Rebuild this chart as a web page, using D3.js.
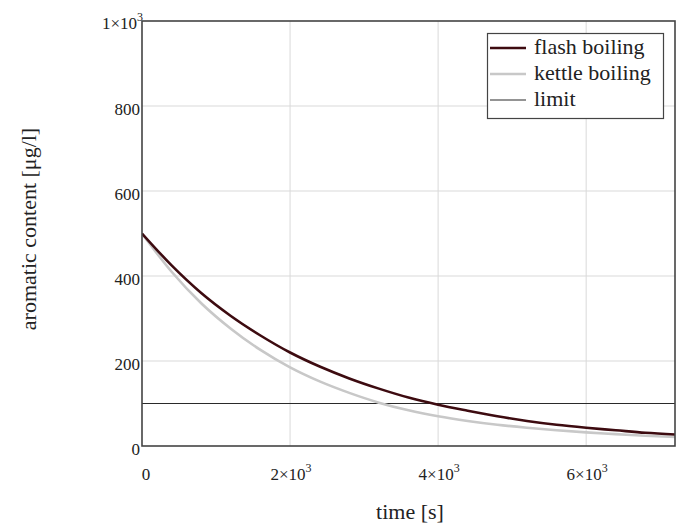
<!DOCTYPE html>
<html>
<head>
<meta charset="utf-8">
<script src="https://cdn.jsdelivr.net/npm/d3@7"></script>
<style>
  body { margin: 0; background: #fff; }
</style>
</head>
<body>
<svg id="chart" width="682" height="527"></svg>
<script>
// data
const times = [0, 400, 800, 1200, 1600, 2000, 2400, 2800, 3200, 3600, 4000,
               4400, 4800, 5200, 5600, 6000, 6400, 6800, 7200];
const flashBoiling = [500, 425, 360, 306, 260, 220, 187, 159, 135, 114, 97,
                      83, 70, 59, 50, 43, 37, 31, 27];
const kettleBoiling = [500, 410, 336, 276, 226, 185, 152, 125, 102, 84, 70,
                       59, 50, 43, 37, 32, 28, 24, 21];
const limitValue = 100;
const xTicks = [0, 2000, 4000, 6000];
const yTicks = [0, 200, 400, 600, 800, 1000];
const legendItems = [
  { label: 'flash boiling', color: '#3d0b10', width: 2.6 },
  { label: 'kettle boiling', color: '#c8c8c8', width: 2.6 },
  { label: 'limit', color: '#2a2a2a', width: 1.2 }
];

const FONT = '"Liberation Serif", "DejaVu Serif", serif';
const svg = d3.select('#chart').attr('font-family', FONT);
const plotL = 142, plotR = 675, plotT = 21, plotB = 446;

const x = d3.scaleLinear().domain([0, 7200]).range([plotL, plotR]);
const y = d3.scaleLinear().domain([0, 1000]).range([plotB, plotT]);

// grid
const grid = svg.append('g');
grid.selectAll('line.gx')
  .data(xTicks.filter(d => d > 0))
  .join('line')
  .attr('x1', d => x(d)).attr('x2', d => x(d))
  .attr('y1', plotT).attr('y2', plotB)
  .attr('stroke', '#d9d9d9').attr('stroke-width', 1);
grid.selectAll('line.gy')
  .data(yTicks.filter(d => d > 0 && d < 1000))
  .join('line')
  .attr('x1', plotL).attr('x2', plotR)
  .attr('y1', d => y(d)).attr('y2', d => y(d))
  .attr('stroke', '#d9d9d9').attr('stroke-width', 1);

// superscript helper for 10^3 labels
function tickText(sel, v) {
  if (v === 0) { sel.text('0'); return; }
  const m = v / 1000;
  sel.append('tspan').text(m + '\u00d710');
  sel.append('tspan').attr('dy', -8).attr('font-size', 12).text('3');
}

// x tick labels
svg.append('g').selectAll('text')
  .data(xTicks)
  .join('text')
  .attr('x', d => x(d) + (d === 0 ? 4 : 1))
  .attr('y', 480)
  .attr('text-anchor', 'middle')
  .attr('font-family', FONT)
  .attr('font-size', 17)
  .attr('fill', '#222')
  .each(function(d) { tickText(d3.select(this), d); });

// y tick labels
svg.append('g').selectAll('text')
  .data(yTicks)
  .join('text')
  .attr('x', d => d === 1000 ? plotL + 1 : plotL - 2)
  .attr('y', d => d === 1000 ? y(d) + 8 : y(d) + 9)
  .attr('text-anchor', 'end')
  .attr('font-family', FONT)
  .attr('font-size', 17)
  .attr('fill', '#222')
  .each(function(d) {
    if (d === 1000) tickText(d3.select(this), d);
    else d3.select(this).text(d);
  });

// limit line
svg.append('line')
  .attr('x1', plotL).attr('x2', plotR)
  .attr('y1', y(limitValue)).attr('y2', y(limitValue))
  .attr('stroke', '#2a2a2a').attr('stroke-width', 1.2);

const line = d3.line().curve(d3.curveMonotoneX);
svg.append('clipPath').attr('id', 'clip')
  .append('rect').attr('x', plotL).attr('y', plotT)
  .attr('width', plotR - plotL).attr('height', plotB - plotT);

svg.append('path')
  .datum(times.map((t, i) => [x(t), y(kettleBoiling[i])]))
  .attr('d', line)
  .attr('clip-path', 'url(#clip)')
  .attr('fill', 'none').attr('stroke', legendItems[1].color)
  .attr('stroke-width', legendItems[1].width);

svg.append('path')
  .datum(times.map((t, i) => [x(t), y(flashBoiling[i])]))
  .attr('d', line)
  .attr('clip-path', 'url(#clip)')
  .attr('fill', 'none').attr('stroke', legendItems[0].color)
  .attr('stroke-width', legendItems[0].width);

// frame
svg.append('rect')
  .attr('x', plotL).attr('y', plotT)
  .attr('width', plotR - plotL).attr('height', plotB - plotT)
  .attr('fill', 'none').attr('stroke', '#444').attr('stroke-width', 1.6);

// legend
const lg = svg.append('g');
lg.append('rect')
  .attr('x', 487.5).attr('y', 33.5).attr('width', 176).attr('height', 85)
  .attr('fill', '#fff').attr('stroke', '#444').attr('stroke-width', 1.2);
legendItems.forEach((d, i) => {
  const ly = 48 + i * 26;
  lg.append('line')
    .attr('x1', 490).attr('x2', 526).attr('y1', ly).attr('y2', ly)
    .attr('stroke', d.color).attr('stroke-width', d.width);
  lg.append('text')
    .attr('x', 534).attr('y', ly + 6)
    .attr('font-family', FONT)
    .attr('font-size', 22).attr('fill', '#222')
    .text(d.label);
});

// axis titles
svg.append('text')
  .attr('x', 410).attr('y', 519)
  .attr('text-anchor', 'middle')
  .attr('font-family', FONT)
  .attr('font-size', 22).attr('fill', '#222')
  .text('time [s]');
svg.append('text')
  .attr('transform', 'translate(36,229) rotate(-90)')
  .attr('text-anchor', 'middle')
  .attr('font-family', FONT)
  .attr('font-size', 22).attr('fill', '#222')
  .text('aromatic content [\u03bcg/l]');
</script>
</body>
</html>
